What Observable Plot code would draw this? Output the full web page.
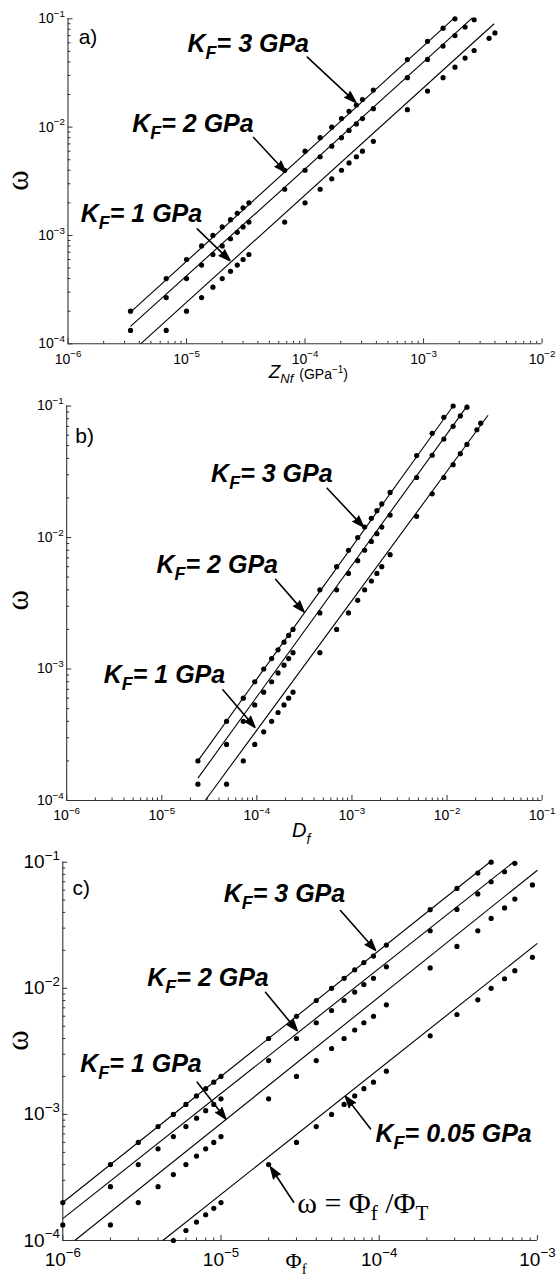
<!DOCTYPE html>
<html>
<head>
<meta charset="utf-8">
<script src="https://cdn.jsdelivr.net/npm/d3@7"></script>
<script src="https://cdn.jsdelivr.net/npm/@observablehq/plot@0.6"></script>
<style>
  html, body { margin: 0; padding: 0; background: #fff; }
  #chart { width: 558px; }
  #chart svg { display: block; overflow: visible; }
</style>
</head>
<body>
<div id="chart"></div>
<script>
// ---------------- DATA ----------------
// omega of the simulated points, per K_F series (same runs in all panels)
const omegaK3 = [2.0e-4,4.0e-4,6.0e-4,8.0e-4,1.0e-3,1.2e-3,1.4e-3,1.6e-3,1.8e-3,2.0e-3,
                 4.0e-3,6.0e-3,8.0e-3,1.0e-2,1.2e-2,1.4e-2,1.6e-2,1.8e-2,
                 2.2e-2,4.2e-2,6.2e-2,8.2e-2,1.0e-1];
const omegaK2 = [1.33e-4,2.67e-4,4.0e-4,5.33e-4,6.67e-4,8.0e-4,9.33e-4,1.07e-3,1.2e-3,1.33e-3,
                 2.67e-3,4.0e-3,5.33e-3,6.67e-3,8.0e-3,9.33e-3,1.07e-2,1.2e-2,
                 1.48e-2,2.86e-2,4.22e-2,5.6e-2,7.0e-2,8.4e-2,9.8e-2];
const omegaK1 = [1.33e-4,2.0e-4,2.67e-4,3.33e-4,4.0e-4,4.67e-4,5.33e-4,6.0e-4,6.67e-4,
                 1.33e-3,2.0e-3,2.67e-3,3.33e-3,4.0e-3,4.67e-3,5.33e-3,6.0e-3,
                 7.4e-3,1.45e-2,2.15e-2,2.86e-2,3.58e-2,4.34e-2,5.1e-2,6.6e-2,7.4e-2];
const omegaK005 = [1.0e-4,1.2e-4,1.4e-4,1.6e-4,1.8e-4,2.0e-4,
                   4.0e-4,6.0e-4,8.0e-4,1.0e-3,1.2e-3,1.4e-3,1.6e-3,1.8e-3,
                   2.2e-3,4.2e-3,6.2e-3,8.1e-3,1.0e-2,1.19e-2,1.38e-2,1.76e-2];

// panel a abscissae: Z_Nf (GPa^-1)
const zLow = [3.37e-6,6.74e-6,1.0e-5,1.34e-5,1.67e-5,2.0e-5,2.35e-5,2.68e-5,3.0e-5,3.36e-5];
const zMid = [6.73e-5,1.0e-4,1.34e-4,1.68e-4,2.03e-4,2.35e-4,2.71e-4,3.05e-4];
const zUp  = [3.77e-4,7.3e-4,1.08e-3,1.46e-3,1.84e-3,2.24e-3,2.67e-3,3.57e-3,4.0e-3];
// panel b abscissae: D_f
const dLow = [2.4e-5,4.8e-5,7.2e-5,9.5e-5,1.18e-4,1.43e-4,1.67e-4,1.93e-4,2.16e-4,2.4e-4];
const dMid = [4.6e-4,6.9e-4,9.2e-4,1.15e-3,1.36e-3,1.6e-3,1.83e-3,2.06e-3];
const dUp  = [2.52e-3,4.79e-3,6.98e-3,9.26e-3,1.16e-2,1.38e-2,1.62e-2,2.06e-2,2.26e-2];
// panel c abscissae: Phi_f
const phiLow = [1e-6,2e-6,3e-6,4e-6,5e-6,6e-6,7e-6,8e-6,9e-6,1e-5];
const phiMid = [2e-5,3e-5,4e-5,5e-5,6e-5,7e-5,8e-5,9.2e-5];
const phiUp  = [1.11e-4,2.1e-4,3.1e-4,4.2e-4,5.1e-4,6.2e-4,7.2e-4,9.3e-4];

// straight fitted lines (end points)
const linesA = [
  {x1:3.37e-6, y1:1.96e-4, x2:1.84e-3, y2:0.103},
  {x1:3.37e-6, y1:1.45e-4, x2:2.58e-3, y2:0.102},
  {x1:4.1e-6,  y1:1.0e-4,  x2:3.94e-3, y2:0.090}];
const linesB = [
  {x1:2.4e-5,  y1:2.0e-4,  x2:1.16e-2, y2:0.1},
  {x1:2.4e-5,  y1:1.48e-4, x2:1.66e-2, y2:0.102},
  {x1:2.86e-5, y1:1.0e-4,  x2:2.7e-2,  y2:0.085}];
const linesC = [
  {x1:1e-6,    y1:2.0e-4,  x2:5.0e-4,  y2:0.1},
  {x1:1e-6,    y1:1.49e-4, x2:7.05e-4, y2:0.1},
  {x1:1.19e-6, y1:1.0e-4,  x2:1e-3,    y2:0.0864},
  {x1:4.29e-6, y1:1.0e-4,  x2:1e-3,    y2:0.0227}];

// ticks
const omegaTicks = [1e-4,1e-3,1e-2,1e-1];
const ticksA = [1e-6,1e-5,1e-4,1e-3,1e-2];
const ticksB = [1e-6,1e-5,1e-4,1e-3,1e-2,1e-1];
const ticksC = [1e-6,1e-5,1e-4,1e-3];

// annotations (data coordinates)
const labelsA = [{x:1.02e-5,y:0.049,key:"K3"},{x:3.48e-6,y:8.93e-3,key:"K2"},{x:1.28e-6,y:1.33e-3,key:"K1"}];
const arrowsA = [{x1:1.045e-4,y1:0.0443,x2:2.67e-4,y2:0.0170},
                 {x1:3.68e-5,y1:8.03e-3,x2:6.85e-5,y2:3.85e-3},
                 {x1:1.23e-5,y1:1.15e-3,x2:2.32e-5,y2:5.88e-4}];
const tagA = [{x:1.23e-6,y:0.058,key:"a)"}];
const xLabA = [{x:4.93e-5,y:4.79e-5,key:"ZNF"}];
const yLabA = [{x:3.82e-7,y:3.22e-3,key:"ω"}];

const labelsB = [{x:3.3e-5,y:0.0266,key:"K3"},{x:8.8e-6,y:5.36e-3,key:"K2"},{x:2.45e-6,y:7.78e-4,key:"K1"}];
const arrowsB = [{x1:5.48e-4,y1:0.0237,x2:1.32e-3,y2:0.01205},
                 {x1:1.58e-4,y1:4.8e-3,x2:3.13e-4,y2:2.72e-3},
                 {x1:4.39e-5,y1:6.95e-4,x2:9.53e-5,y2:3.6e-4}];
const tagB = [{x:1.23e-6,y:0.0524,key:"b)"}];
const xLabB = [{x:2.34e-4,y:5.32e-5,key:"DF"}];
const yLabB = [{x:3.11e-7,y:3.33e-3,key:"ω"}];

const labelsC = [{x:1.04e-5,y:0.0482,key:"K3"},{x:3.42e-6,y:0.01052,key:"K2"},
                 {x:1.29e-6,y:2.16e-3,key:"K1"},{x:9.48e-5,y:6.03e-4,key:"K005"}];
const arrowsC = [{x1:5.69e-5,y1:0.0414,x2:9.48e-5,y2:0.02},
                 {x1:1.91e-5,y1:9.3e-3,x2:3.03e-5,y2:4.62e-3},
                 {x1:7.08e-6,y1:1.8e-3,x2:1.07e-5,y2:9.22e-4},
                 {x1:8.81e-5,y1:7.69e-4,x2:6.12e-5,y2:1.39e-3},
                 {x1:2.88e-5,y1:2.01e-4,x2:2.06e-5,y2:3.81e-4}];
const formulaC = [{x:3.03e-5,y:1.64e-4,key:"FORMULA"}];
const tagC = [{x:1.15e-6,y:0.0545,key:"c)"}];
const xLabC = [{x:2.56e-5,y:6.0e-5,key:"PHIF"}];
const yLabC = [{x:5.25e-7,y:3.85e-3,key:"ω"}];

// ---------------- helpers ----------------
const SANS = "'Liberation Sans', Arial, Helvetica, sans-serif";
const SERIF = "'Liberation Serif', 'Times New Roman', serif";
const MINUS = "\u2212";
const pts = (xs, ws) => xs.map((x, i) => ({x, y: ws[i]}));
const minors = ([lo, hi]) => {
  const out = [];
  for (let e = Math.round(Math.log10(lo)); e < Math.round(Math.log10(hi)); e++)
    for (let m = 2; m <= 9; m++) out.push(m * Math.pow(10, e));
  return out;
};
const kSpec = v => [{t:"K"},{t:"F",size:18,dy:7},{t:"= " + v + " GPa",dy:-7}];
const RICH = {
  K3: kSpec("3"), K2: kSpec("2"), K1: kSpec("1"), K005: kSpec("0.05"),
  ZNF: [{t:"Z",style:"italic"},{t:"Nf",style:"italic",size:13,dy:5},
        {t:"(GPa",size:14,dy:-4,dx:6},{t:MINUS+"1",size:10,dy:-6},{t:")",size:14,dy:6}],
  DF: [{t:"D",style:"italic"},{t:"f",style:"italic",size:14,dy:7}],
  PHIF: [{t:"Φ"},{t:"f",size:15,dy:6}],
  FORMULA: [{t:"ω = Φ"},{t:"f",size:21,dy:7},{t:" /Φ",dy:-7},{t:"T",size:21,dy:7}]
};
function richify(svg, tickFont) {
  svg.querySelectorAll("text").forEach(node => {
    const s = node.textContent;
    let spec = RICH[s];
    const m = /^10\^(-?\d+)$/.exec(s);
    if (m) spec = [{t:"10"},{t:m[1].replace("-", MINUS), size: tickFont*0.7, dy: -tickFont*0.45}];
    if (!spec) return;
    node.textContent = "";
    for (const o of spec) {
      const ts = document.createElementNS("http://www.w3.org/2000/svg", "tspan");
      ts.textContent = o.t;
      if (o.size) ts.setAttribute("font-size", o.size);
      if (o.style) ts.setAttribute("font-style", o.style);
      if (o.dy) ts.setAttribute("dy", o.dy);
      if (o.dx) ts.setAttribute("dx", o.dx);
      node.appendChild(ts);
    }
  });
}
const fmt = d => "10^" + Math.round(Math.log10(d));

function panel(c) {
  const xDom = [c.xTicks[0], c.xTicks[c.xTicks.length - 1]];
  const yDom = [1e-4, 1e-1];
  const axisColor = "#333";
  const svg = Plot.plot({
    width: 558, height: c.height,
    marginTop: c.mt, marginBottom: c.mb, marginLeft: c.ml, marginRight: c.mr,
    style: {background: "transparent", overflow: "visible", fontFamily: SANS},
    x: {type: "log", domain: xDom},
    y: {type: "log", domain: yDom},
    marks: [
      Plot.axisX({ticks: minors(xDom), tickSize: -2.5, tickFormat: () => "", label: null, stroke: axisColor}),
      Plot.axisY({ticks: minors(yDom), tickSize: -3, tickFormat: () => "", label: null, stroke: axisColor}),
      Plot.axisX({ticks: c.xTicks, tickSize: -5, tickPadding: c.xPad, tickFormat: fmt, label: null,
                  stroke: axisColor, fontSize: c.tickFont, fontFamily: SANS}),
      Plot.axisY({ticks: omegaTicks, tickSize: -5, tickPadding: 8, tickFormat: fmt, label: null,
                  stroke: axisColor, fontSize: c.tickFont, fontFamily: SANS}),
      Plot.ruleX([xDom[0]], {stroke: axisColor, strokeWidth: 1.1}),
      Plot.ruleY([yDom[0]], {stroke: axisColor, strokeWidth: 1.1}),
      Plot.link(c.lines, {x1: "x1", y1: "y1", x2: "x2", y2: "y2", stroke: "black", strokeWidth: 1.1}),
      Plot.dot(c.points, {x: "x", y: "y", r: 2.6, fill: "black"}),
      Plot.arrow(c.arrows, {x1: "x1", y1: "y1", x2: "x2", y2: "y2", stroke: "black", fill: "black",
                            strokeWidth: 1.6, headLength: 11, headAngle: 38}),
      Plot.text(c.labels, {x: "x", y: "y", text: "key", fontSize: 25, fontWeight: "bold",
                           fontStyle: "italic", fontFamily: SANS, textAnchor: "start", lineAnchor: "bottom"}),
      Plot.text(c.tag, {x: "x", y: "y", text: "key", fontSize: 21, fontFamily: SANS,
                        textAnchor: "start", lineAnchor: "bottom"}),
      Plot.text(c.xLab, {x: "x", y: "y", text: "key", fontSize: c.xLabFont, fontFamily: c.xLabFamily,
                         textAnchor: "start", lineAnchor: "bottom"}),
      Plot.text(c.yLab, {x: "x", y: "y", text: "key", fontSize: 31, fontFamily: SERIF,
                         rotate: -90, textAnchor: "middle", lineAnchor: "middle"}),
      ...(c.extra || [])
    ]
  });
  richify(svg, c.tickFont);
  svg.querySelectorAll("g[aria-label='arrow'] path").forEach(p => p.setAttribute("stroke-linejoin", "miter"));
  document.getElementById("chart").appendChild(svg);
}

// ---------------- panels ----------------
panel({
  height: 400, mt: 18.3, mb: 56.7, ml: 67.5, mr: 16.4,
  xTicks: ticksA, tickFont: 14, xPad: 15,
  points: [
    ...pts([...zLow, ...zMid, ...zUp.slice(0, 5)], omegaK3),
    ...pts([...zLow, ...zMid, ...zUp.slice(0, 7)], omegaK2),
    ...pts([...zLow.slice(1), ...zMid, ...zUp], omegaK1)],
  lines: linesA, arrows: arrowsA, labels: labelsA, tag: tagA,
  xLab: xLabA, xLabFont: 19, xLabFamily: SANS, yLab: yLabA
});
panel({
  height: 440, mt: 5.5, mb: 40, ml: 66.2, mr: 16.4,
  xTicks: ticksB, tickFont: 14, xPad: 15,
  points: [
    ...pts([...dLow, ...dMid, ...dUp.slice(0, 5)], omegaK3),
    ...pts([...dLow, ...dMid, ...dUp.slice(0, 7)], omegaK2),
    ...pts([...dLow.slice(1), ...dMid, ...dUp], omegaK1)],
  lines: linesB, arrows: arrowsB, labels: labelsB, tag: tagB,
  xLab: xLabB, xLabFont: 20, xLabFamily: SANS, yLab: yLabB
});
panel({
  height: 441, mt: 21.7, mb: 41, ml: 62.3, mr: 21.1,
  xTicks: ticksC, tickFont: 19, xPad: 17,
  points: [
    ...pts([...phiLow, ...phiMid, ...phiUp.slice(0, 5)], omegaK3),
    ...pts([...phiLow, ...phiMid, ...phiUp.slice(0, 7)], omegaK2),
    ...pts([...phiLow.slice(1), ...phiMid, ...phiUp], omegaK1),
    ...pts([...phiLow.slice(4), ...phiMid, ...phiUp], omegaK005)],
  lines: linesC, arrows: arrowsC, labels: labelsC, tag: tagC,
  xLab: xLabC, xLabFont: 22, xLabFamily: SERIF, yLab: yLabC,
  extra: [Plot.text(formulaC, {x: "x", y: "y", text: "key", fontSize: 30, fontFamily: SERIF,
                               textAnchor: "start", lineAnchor: "bottom"})]
});
</script>
</body>
</html>
